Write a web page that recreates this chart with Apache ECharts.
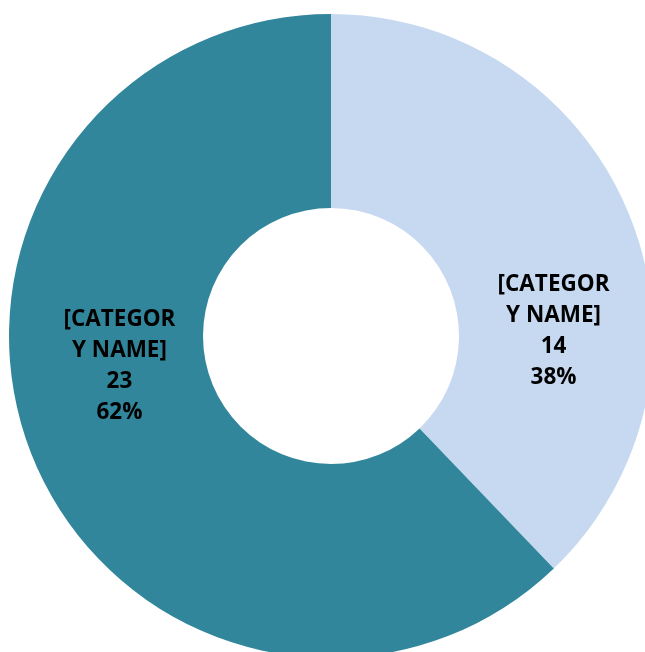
<!DOCTYPE html>
<html>
<head>
<meta charset="utf-8">
<script src="https://cdn.jsdelivr.net/npm/echarts@6/dist/echarts.min.js"></script>
<style>
  html, body { margin: 0; padding: 0; background: #ffffff; }
  #chart { width: 645px; height: 652px; }
</style>
</head>
<body>
<div id="chart"></div>
<script>
const categories = ['[CATEGORY NAME]', '[CATEGORY NAME]'];
const values = [14, 23];
const colors = ['#C6D9F1', '#31869B'];

// label offsets from the default in-ring position (style only)
const labelShift = [[11, 80], [0, -55]];

const chart = echarts.init(document.getElementById('chart'), null, { renderer: 'canvas' });
chart.setOption({
  backgroundColor: '#ffffff',
  animation: false,
  series: [{
    type: 'pie',
    center: [331, 336],
    radius: [128, 322],
    startAngle: 90,
    clockwise: true,
    avoidLabelOverlap: false,
    silent: true,
    itemStyle: { borderWidth: 0 },
    label: {
      show: true,
      position: 'inside',
      color: '#000000',
      fontFamily: '"Open Sans", "Noto Sans", sans-serif',
      fontWeight: 'bold',
      fontSize: 22.5,
      lineHeight: 31,
      align: 'center',
      formatter: function (p) {
        const n = p.name;
        return n.slice(0, 8) + '\n' + n.slice(8) + '\n' + p.value + '\n' + Math.round(p.percent) + '%';
      }
    },
    labelLine: { show: false },
    labelLayout: function (params) {
      const s = labelShift[params.dataIndex];
      return { dx: s[0], dy: s[1] };
    },
    data: categories.map(function (c, i) {
      return { name: c, value: values[i], itemStyle: { color: colors[i] } };
    })
  }]
});
</script>
</body>
</html>
